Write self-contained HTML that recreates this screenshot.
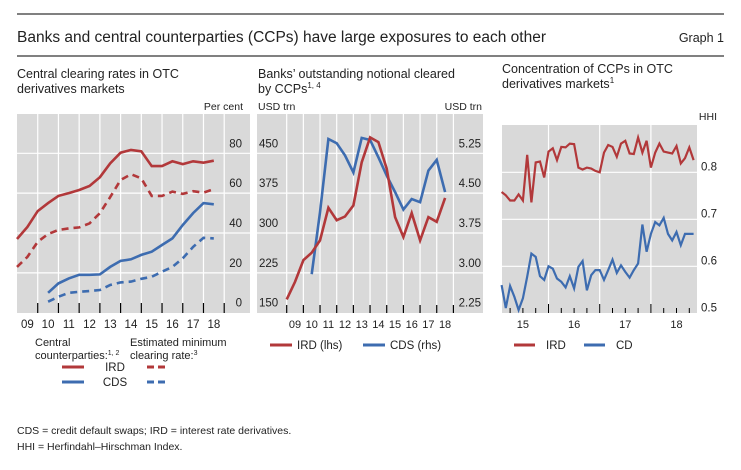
<!DOCTYPE html>
<html><head><meta charset="utf-8">
<style>
body{margin:0;background:#fff;width:741px;height:465px;overflow:hidden;font-family:"Liberation Sans",sans-serif;}
svg text{font-family:"Liberation Sans",sans-serif;fill:#222;}
</style></head>
<body>
<svg id="chart" width="741" height="465" viewBox="0 0 741 465" xmlns="http://www.w3.org/2000/svg">
<line x1="17" y1="14" x2="724" y2="14" stroke="#000" stroke-width="1"/>
<text x="17" y="42" font-size="15.5">Banks and central counterparties (CCPs) have large exposures to each other</text>
<text x="724" y="42" font-size="12.5" text-anchor="end">Graph 1</text>
<line x1="17" y1="56" x2="724" y2="56" stroke="#000" stroke-width="1"/>

<text x="17" y="78" font-size="12.5">Central clearing rates in OTC</text>
<text x="17" y="93" font-size="12.5">derivatives markets</text>
<text x="243" y="110" font-size="10.5" text-anchor="end" fill="#444">Per cent</text>

<text x="258" y="78" font-size="12.5">Banks’ outstanding notional cleared</text>
<text x="258" y="93" font-size="12.5">by CCPs<tspan font-size="8" dy="-5">1, 4</tspan></text>
<text x="258" y="110" font-size="10.5" fill="#444">USD trn</text>
<text x="482" y="110" font-size="10.5" text-anchor="end" fill="#444">USD trn</text>

<text x="502" y="73" font-size="12.5">Concentration of CCPs in OTC</text>
<text x="502" y="88" font-size="12.5">derivatives markets<tspan font-size="8" dy="-5">1</tspan></text>
<text x="717" y="120" font-size="10.5" text-anchor="end" fill="#444">HHI</text>

<g id="p1"></g>
<g id="p2"></g>
<g id="p3"></g>

<g font-size="11">
<text x="35" y="346">Central</text>
<text x="35" y="359">counterparties:<tspan font-size="7" dy="-4">1, 2</tspan></text>
<text x="130" y="346">Estimated minimum</text>
<text x="130" y="359">clearing rate:<tspan font-size="7" dy="-4">3</tspan></text>
<line x1="62" y1="367" x2="84" y2="367" stroke="#b2383a" stroke-width="3"/>
<text x="115" y="371" text-anchor="middle" font-size="11.5">IRD</text>
<line x1="147" y1="367" x2="167" y2="367" stroke="#b2383a" stroke-width="3" stroke-dasharray="7,4"/>
<line x1="62" y1="382" x2="84" y2="382" stroke="#3d6cb0" stroke-width="3"/>
<text x="115" y="386" text-anchor="middle" font-size="11.5">CDS</text>
<line x1="147" y1="382" x2="167" y2="382" stroke="#3d6cb0" stroke-width="3" stroke-dasharray="7,4"/>
</g>
<g font-size="11.5">
<line x1="270" y1="345" x2="292" y2="345" stroke="#b2383a" stroke-width="3"/>
<text x="297" y="349">IRD (lhs)</text>
<line x1="363" y1="345" x2="385" y2="345" stroke="#3d6cb0" stroke-width="3"/>
<text x="390" y="349">CDS (rhs)</text>
</g>
<g font-size="11.5">
<line x1="514" y1="345" x2="535" y2="345" stroke="#b2383a" stroke-width="3"/>
<text x="546" y="349">IRD</text>
<line x1="584" y1="345" x2="605" y2="345" stroke="#3d6cb0" stroke-width="3"/>
<text x="616" y="349">CD</text>
</g>
<text x="17" y="434" font-size="10.5">CDS = credit default swaps; IRD = interest rate derivatives.</text>
<text x="17" y="450" font-size="10.5">HHI = Herfindahl–Hirschman Index.</text>
</svg>
<script>
// Panel 1 data (semiannual from 2009.0)
const p1Start = 2009;
const p1IrdCcp = [37,43,51,55,58.6,60,61.6,63.6,68,75,80.3,81.7,81,73.6,73.6,76,74.6,76,75.3,76.3];
const p1IrdMin = [23,28,35.6,39.5,41.5,42.3,42.8,44.8,50,58,66.6,69.5,67.4,58.6,58.6,60.8,59.6,61,60.3,62];
const p1CdsStart = 2010.5;
const p1CdsCcp = [10,14.7,17.2,19,19,19.2,23,26,26.8,29,30.6,34,37.3,44,50,55,54.4];
const p1CdsMin = [5.5,8,10,10.5,10.9,11.4,13.9,15.2,15.6,17,18,20.6,23,27.3,33,37.6,37.3];
const p1Ticks = [0,20,40,60,80];
const p1Years = ['09','10','11','12','13','14','15','16','17','18'];
// Panel 2 data (semiannual)
const p2IrdStart = 2009;
const p2Ird = [175,208,249,263,286,347.5,324,331,352,433,480,471,421,330,292.5,337.5,286,330,321,366];
const p2CdsStart = 2010.5;
const p2Cds = [2.975,4.14,5.52,5.44,5.21,4.89,5.54,5.5,5.175,4.83,4.52,4.19,4.39,4.33,4.925,5.125,4.52];
const p2LeftTicks = [150,225,300,375,450];
const p2RightTicks = ['2.25','3.00','3.75','4.50','5.25'];
const p2Years = ['09','10','11','12','13','14','15','16','17','18'];
// Panel 3 data (monthly from Feb 2015)
const p3Start = 2015 + 1/12;
const p3Ird = [0.758,0.751,0.74,0.74,0.753,0.74,0.837,0.736,0.821,0.823,0.789,0.844,0.851,0.826,0.854,0.853,0.861,0.86,0.81,0.806,0.81,0.808,0.803,0.8,0.842,0.858,0.854,0.833,0.861,0.867,0.84,0.839,0.874,0.842,0.867,0.81,0.842,0.861,0.844,0.842,0.84,0.856,0.819,0.83,0.853,0.826];
const p3Cd = [0.56,0.511,0.558,0.535,0.507,0.532,0.578,0.627,0.62,0.579,0.571,0.6,0.595,0.574,0.567,0.555,0.579,0.553,0.599,0.611,0.549,0.581,0.592,0.592,0.571,0.592,0.614,0.586,0.602,0.588,0.576,0.592,0.606,0.689,0.631,0.669,0.694,0.687,0.703,0.669,0.655,0.673,0.645,0.669,0.669,0.669];
const p3Ticks = ['0.5','0.6','0.7','0.8'];
const p3Years = ['15','16','17','18'];

const NS='http://www.w3.org/2000/svg';
const RED='#b2383a', BLUE='#3d6cb0';
function mk(parent,tag,attrs){const e=document.createElementNS(NS,tag);for(const k in attrs)e.setAttribute(k,attrs[k]);parent.appendChild(e);return e;}
function pathFrom(vals,start,step,xf,yf){return vals.map((v,i)=>(i?'L':'M')+xf(start+i*step).toFixed(1)+','+yf(v).toFixed(1)).join(' ');}

// ---- Panel 1
(function(){
  const g=document.getElementById('p1');
  const x=yr=>17+(yr-2009)*20.72, y=v=>312.7-v*1.9925;
  const bg=mk(g,'rect',{x:17,y:114,width:233,height:199,fill:'#d9d9d9'});
  
  
  p1Ticks.forEach(t=>{
    if(t>0){const l=mk(g,'line',{x1:17,x2:250,y1:y(t),y2:y(t),stroke:'#fff','stroke-width':1.2});
    
    }
    const tx=mk(g,'text',{x:242,y:y(t)-6,'font-size':11.5,'text-anchor':'end'});tx.textContent=t;
    
    
  });
  for(let i=1;i<=p1Years.length;i++){
    const vx=x(2009+i);
    mk(g,'line',{x1:vx,x2:vx,y1:114,y2:313,stroke:'#fff','stroke-width':1.2});
    mk(g,'line',{x1:vx,x2:vx,y1:303,y2:313,stroke:'#000','stroke-width':1.2});
  }
  p1Years.forEach((lab,i)=>{const t=mk(g,'text',{x:x(2009.5+i),y:328,'font-size':11.5,'text-anchor':'middle'});t.textContent=lab;
    
    });
  const series=[[p1IrdCcp,p1Start,RED,'','ird-ccp-line'],[p1IrdMin,p1Start,RED,'7,5','ird-min-line'],[p1CdsCcp,p1CdsStart,BLUE,'','cds-ccp-line'],[p1CdsMin,p1CdsStart,BLUE,'7,5','cds-min-line']];
  series.forEach(s=>{const p=mk(g,'path',{d:pathFrom(s[0],s[1],0.5,x,y),fill:'none',stroke:s[2],'stroke-width':2.6,'stroke-dasharray':s[3]||'none'});
    
    });
})();

// ---- Panel 2
(function(){
  const g=document.getElementById('p2');
  const x=yr=>286.7+(yr-2009)*16.67;
  const yl=v=>312.7-(v-150)/75*39.85;
  const yr2=v=>312.7-(v-2.25)/0.75*39.85;
  const bg=mk(g,'rect',{x:257,y:114,width:226,height:199,fill:'#d9d9d9'});
  
  
  p2LeftTicks.forEach((t,i)=>{
    if(i>0){const l=mk(g,'line',{x1:257,x2:483,y1:yl(t),y2:yl(t),stroke:'#fff','stroke-width':1.2});
    
    }
    const a=mk(g,'text',{x:259,y:yl(t)-6,'font-size':11.5});a.textContent=t;
    
    
    const b=mk(g,'text',{x:481,y:yl(t)-6,'font-size':11.5,'text-anchor':'end'});b.textContent=p2RightTicks[i];
    
    
  });
  for(let i=0;i<=p2Years.length;i++){
    const vx=x(2009+i);
    mk(g,'line',{x1:vx,x2:vx,y1:114,y2:313,stroke:'#fff','stroke-width':1.2});
    mk(g,'line',{x1:vx,x2:vx,y1:305,y2:313,stroke:'#000','stroke-width':1.2});
  }
  p2Years.forEach((lab,i)=>{const t=mk(g,'text',{x:x(2009.5+i),y:328,'font-size':11,'text-anchor':'middle'});t.textContent=lab;
    
    });
  const b=mk(g,'path',{d:pathFrom(p2Cds,p2CdsStart,0.5,x,yr2),fill:'none',stroke:BLUE,'stroke-width':2.6});
  
  
  const r=mk(g,'path',{d:pathFrom(p2Ird,p2IrdStart,0.5,x,yl),fill:'none',stroke:RED,'stroke-width':2.6});
  
  
})();

// ---- Panel 3
(function(){
  const g=document.getElementById('p3');
  const x=yr=>497.3+(yr-2015)*51.2;
  const y=v=>313.3-(v-0.5)*470;
  const bg=mk(g,'rect',{x:502,y:125,width:195,height:188,fill:'#d9d9d9'});
  
  
  p3Ticks.forEach(t=>{
    const v=parseFloat(t);
    if(v>0.5){const l=mk(g,'line',{x1:502,x2:697,y1:y(v),y2:y(v),stroke:'#fff','stroke-width':1.2});
    
    }
    const tx=mk(g,'text',{x:701,y:y(v)-2,'font-size':11.5});tx.textContent=t;
    
    
  });
  for(let q=1;q<16;q++){
    const vx=x(2015+q/4);
    if(vx>697)break;
    if(q%4===0){mk(g,'line',{x1:vx,x2:vx,y1:125,y2:313,stroke:'#fff','stroke-width':1.2});
      mk(g,'line',{x1:vx,x2:vx,y1:304,y2:313,stroke:'#000','stroke-width':1});}
    else mk(g,'line',{x1:vx,x2:vx,y1:308,y2:313,stroke:'#000','stroke-width':1});
  }
  p3Years.forEach((lab,i)=>{const t=mk(g,'text',{x:x(2015.5+i),y:328,'font-size':11,'text-anchor':'middle'});t.textContent=lab;
    
    });
  const r=mk(g,'path',{d:pathFrom(p3Ird,p3Start,1/12,x,y),fill:'none',stroke:RED,'stroke-width':2.2});
  
  
  const b=mk(g,'path',{d:pathFrom(p3Cd,p3Start,1/12,x,y),fill:'none',stroke:BLUE,'stroke-width':2.2});
  
  
})();
</script>
</body></html>
